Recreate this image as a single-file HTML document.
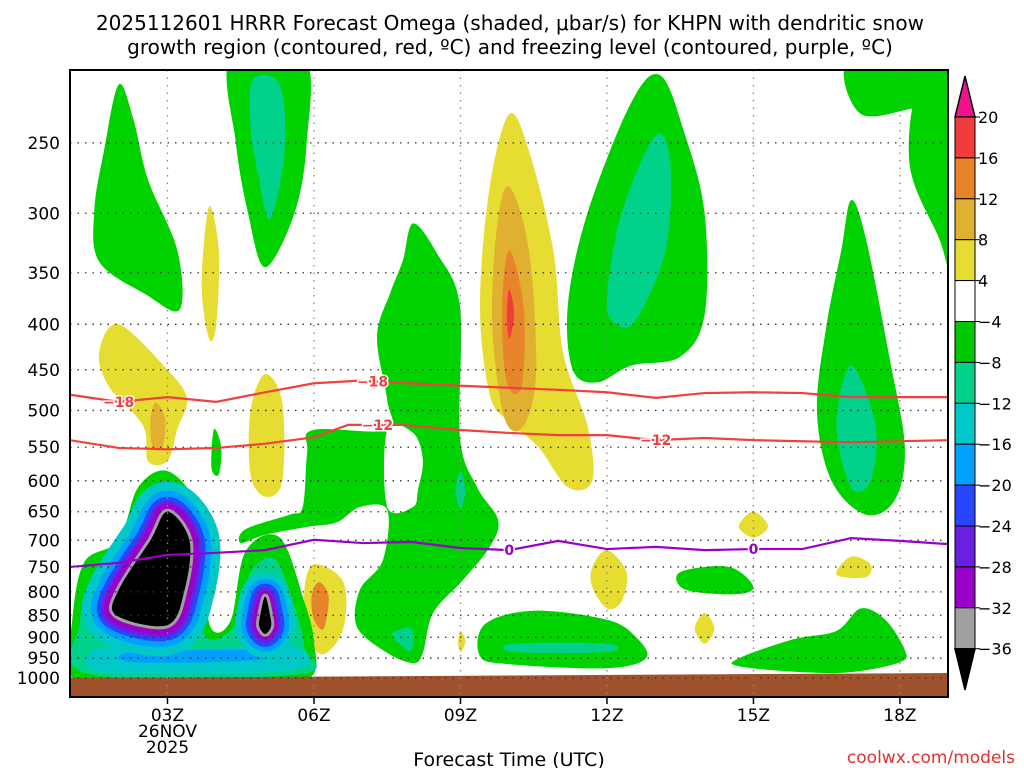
<!DOCTYPE html>
<html><head><meta charset="utf-8"><style>
html,body{margin:0;padding:0;background:#fff;width:1024px;height:768px;overflow:hidden}
svg{display:block}
text{font-family:"DejaVu Sans","Liberation Sans",sans-serif}
</style></head><body>
<svg id="chart" width="1024" height="768" viewBox="0 0 1024 768" xmlns="http://www.w3.org/2000/svg">
<text x="510" y="30" text-anchor="middle" font-size="20">2025112601 HRRR Forecast Omega (shaded, μbar/s) for KHPN with dendritic snow</text>
<text x="510" y="54" text-anchor="middle" font-size="20">growth region (contoured, red, ºC) and freezing level (contoured, purple, ºC)</text>
<defs><clipPath id="plotclip"><rect x="70" y="70" width="878" height="627"/></clipPath></defs>
<g id="fills" clip-path="url(#plotclip)"></g>
<g id="grid"></g>
<g id="lines" clip-path="url(#plotclip)"></g>
<g id="axes"></g>
<g id="cbar"></g>
<text x="509" y="766" text-anchor="middle" font-size="19">Forecast Time (UTC)</text>
<text x="1015" y="763" text-anchor="end" font-size="17" fill="#e03030">coolwx.com/models</text>
</svg>
<script>
// ---- data ----
const pTicks=[250,300,350,400,450,500,550,600,650,700,750,800,850,900,950,1000];
const hourTicks=[3,6,9,12,15,18];
const hourLabels=["03Z","06Z","09Z","12Z","15Z","18Z"];
const m18Hours=[1,2,3,4,5,6,6.9,9,11,12,13,14,15,16,17,19];
const m18Press=[480,489,483,489,477,466,463,469,474,477,484,478,477,478,483,483];
const m12Hours=[1,2,3,4,5,6,6.7,7.8,9,10,11,12,13,14,15,17,19];
const m12Press=[540,551,553,551,545,536,519,519,526,530,533,533,540,537,540,543,540];
const frzHours=[1,2,3,4,5,6,7,8,9,10,11,12,13,14,15,16,17,18,19];
const frzPress=[750,742,727,723,718,699,705,703,714,718,701,716,712,718,716,716,696,701,707];
const cbLevels=[20,16,12,8,4,-4,-8,-12,-16,-20,-24,-28,-32,-36];
const cbColors=["#f03c3c","#e8842a","#e0b030","#e6dc32","#ffffff","#00c800","#00d28c","#00c8c8","#00a0ff","#2846ff","#6a20e0","#9a00c8","#a0a0a0"];
const C={g:"#00d200",t:"#00d28c",c:"#00c8c8",lb:"#00a0ff",b:"#2846ff",i:"#6a20e0",p:"#9a00c8",gr:"#a0a0a0",k:"#000",y:"#e6dc32",go:"#e0b030",o:"#e8842a",r:"#f03c3c",w:"#fff"};
// shaded regions: [color, [[hour,pressure],...]]
const blobs=[
["g",[[2.0,215],[2.3,235],[2.6,275],[3.2,330],[3.25,385],[2.55,370],[1.6,340],[1.5,298],[1.7,255]]],
["g",[[4.3,200],[5.8,200],[5.85,250],[5.6,300],[5.0,345],[4.65,300],[4.4,250]]],
["t",[[4.75,212],[5.3,215],[5.4,255],[5.1,305],[4.85,270],[4.7,240]]],
["y",[[3.85,295],[4.05,330],[4.0,400],[3.85,415],[3.7,360]]],
["y",[[1.6,430],[2.0,400],[3.0,450],[3.4,485],[3.2,525],[3.0,570],[2.6,570],[2.5,520],[1.8,470]]],
["go",[[2.75,490],[2.95,510],[2.9,550],[2.7,550],[2.65,515]]],
["y",[[5.0,455],[5.35,490],[5.35,600],[5.0,625],[4.7,590],[4.7,500]]],
["g",[[3.95,525],[4.1,550],[4.05,590],[3.9,580]]],
["g",[[8.03,308],[8.52,333],[8.99,382],[8.99,536],[9.34,610],[9.77,664],[9.6,712],[9.05,776],[8.44,845],[8.23,937],[8.03,962],[7.5,937],[6.88,876],[6.94,796],[7.41,737],[7.5,647],[6.94,642],[6.47,668],[5.86,676],[5.0,690],[4.5,705],[4.6,680],[5.5,655],[5.77,642],[5.86,558],[5.98,526],[7.5,526],[7.5,487],[7.29,413],[7.56,369],[7.82,339]]],
["w",[[7.5,526],[8.03,530],[8.23,568],[8.13,614],[8.03,642],[7.5,642]]],
["t",[[9.0,585],[9.1,615],[9.0,645],[8.9,615]]],
["t",[[7.6,890],[8.0,880],[8.0,930],[7.8,920]]],
["g",[[9.5,870],[10.5,840],[12.0,860],[12.6,900],[12.8,950],[12.0,975],[10.0,965],[9.4,945]]],
["t",[[10.1,915],[12.0,915],[12.0,935],[10.1,935]]],
["y",[[10.0,232],[10.4,255],[10.9,330],[11.1,430],[11.6,520],[11.7,600],[11.2,610],[10.6,550],[10.0,515],[9.6,480],[9.4,380],[9.6,280]]],
["go",[[10.0,280],[10.4,330],[10.55,450],[10.3,520],[9.9,510],[9.65,400],[9.75,310]]],
["o",[[10.0,330],[10.3,385],[10.25,470],[9.95,465],[9.85,385]]],
["r",[[10.0,365],[10.1,390],[10.0,415],[9.95,390]]],
["g",[[11.3,450],[11.2,380],[11.6,300],[12.5,225],[13.1,210],[13.6,245],[14.0,300],[14.0,390],[13.5,435],[12.5,445],[11.8,465]]],
["t",[[12.0,375],[12.3,300],[13.0,245],[13.3,265],[13.2,330],[12.6,395],[12.2,400]]],
["g",[[17.0,200],[19.2,200],[19.2,236],[18.5,228],[17.2,232]]],
["g",[[18.2,265],[18.4,215],[19.2,210],[19.2,360],[18.8,320]]],
["g",[[17.0,290],[17.3,320],[17.8,440],[18.1,550],[17.9,630],[17.3,655],[16.6,600],[16.3,500],[16.5,400],[16.8,330]]],
["t",[[17.0,445],[17.5,520],[17.4,600],[17.0,610],[16.7,520]]],
["g",[[14.7,950],[15.8,905],[16.7,885],[17.2,835],[17.7,860],[18.1,930],[18.0,960],[17.0,985],[16.0,985],[14.7,970]]],
["g",[[13.5,760],[14.5,750],[15.0,790],[14.6,805],[13.6,795]]],
["y",[[12.0,718],[12.4,760],[12.3,820],[12.0,835],[11.7,790],[11.7,750]]],
["y",[[14.0,845],[14.2,880],[14.0,915],[13.8,880]]],
["y",[[15.0,650],[15.3,675],[15.0,695],[14.7,675]]],
["y",[[17.0,730],[17.4,745],[17.3,770],[16.7,765]]],
["y",[[9.0,885],[9.1,910],[9.0,935],[8.95,910]]],
["y",[[6.0,745],[6.6,780],[6.6,880],[6.2,940],[5.9,900],[5.8,800]]],
["o",[[6.1,780],[6.3,810],[6.2,880],[6.0,860],[5.95,810]]],
["y",[[3.85,750],[4.0,790],[3.85,830],[3.75,790]]],
["g",[[1.05,860],[1.3,740],[2.0,700],[2.4,610],[3.0,585],[3.6,640],[3.7,760],[3.9,880],[4.3,860],[4.6,720],[5.3,695],[5.8,820],[6.0,910],[5.9,1000],[4.5,1010],[2.0,1010],[1.05,1000]]],
["t",[[1.2,870],[1.5,770],[2.1,715],[2.5,630],[3.0,610],[3.5,660],[3.55,780],[3.8,900],[4.4,870],[4.7,760],[5.2,735],[5.6,830],[5.8,920],[5.7,990],[1.4,990]]],
["c",[[1.6,925],[3.0,935],[4.3,925],[5.5,915],[5.6,978],[1.7,985]]],
["lb",[[2.3,935],[4.8,930],[4.8,955],[2.3,960]]]
];
const lowCores=[[[3.0,650],[2.65,700],[2.0,796],[1.95,850],[3.0,872],[3.35,796],[3.45,700]]];
const lowCore2=[[5.0,810],[5.1,850],[5.12,875],[5.0,892],[4.88,875],[4.9,850]];

// ---- axes ----
const X=h=>21+48.83*h;
const Y=p=>678-386*Math.log(1000/p);
const NS="http://www.w3.org/2000/svg";
function mk(tag,attrs,parent){const e=document.createElementNS(NS,tag);for(const k in attrs)e.setAttribute(k,attrs[k]);parent.appendChild(e);return e;}
function smooth(pts,closed){
  const P=pts.map(d=>[X(d[0]),Y(d[1])]);const n=P.length;let s="M"+P[0][0]+","+P[0][1];
  const lim=closed?n:n-1;
  for(let i=0;i<lim;i++){
    const p0=P[(i-1+n)%n],p1=P[i],p2=P[(i+1)%n],p3=P[(i+2)%n];
    s+="C"+(p1[0]+(p2[0]-p0[0])/6)+","+(p1[1]+(p2[1]-p0[1])/6)+" "+(p2[0]-(p3[0]-p1[0])/6)+","+(p2[1]-(p3[1]-p1[1])/6)+" "+p2[0]+","+p2[1];
  }
  return s+(closed?"Z":"");
}
const fills=document.getElementById('fills');
blobs.forEach((b,i)=>{
  const el=mk('path',{d:smooth(b[1],true),fill:C[b[0]]},fills);
  
  
});
// rings around low cores
const rings=[["c",30],["lb",21],["b",15],["i",11],["p",8],["gr",3]];
const rings2=[["c",24],["lb",18],["b",13],["i",9],["p",6],["gr",3]];
rings.forEach(r=>{
  lowCores.forEach(core=>{
    const el=mk('path',{d:smooth(core,true),fill:C[r[0]],stroke:C[r[0]],"stroke-width":r[1]*2,"stroke-linejoin":"round"},fills);
    
    
  });
});
rings2.forEach(r=>{
  const el2=mk('path',{d:smooth(lowCore2,true),fill:C[r[0]],stroke:C[r[0]],"stroke-width":r[1]*2,"stroke-linejoin":"round"},fills);
  
  
});
lowCores.forEach(core=>{
  const el=mk('path',{d:smooth(core,true),fill:"#000"},fills);
  
  
});
const k2=mk('path',{d:smooth(lowCore2,true),fill:"#000"},fills);


const gnd=mk('polygon',{points:"70,678 948,673 948,697 70,697",fill:"#a0522d"},fills);



// grid + ticks
const grid=document.getElementById('grid'),axes=document.getElementById('axes');
pTicks.forEach(p=>{
  const y=Y(p);
  const gl=mk('line',{x1:70,x2:948,y1:y,y2:y,stroke:"#333","stroke-width":1.3,"stroke-dasharray":"1.5 6"},grid);
  
  
  const t=mk('text',{x:60,y:y+6,"text-anchor":"end","font-size":17},axes);t.textContent=p;
  
  
});
hourTicks.forEach((h,i)=>{
  const x=X(h);
  const gl=mk('line',{x1:x,x2:x,y1:70,y2:697,stroke:"#888","stroke-width":1.3,"stroke-dasharray":"1.5 6"},grid);
  
  
  mk('line',{x1:x,x2:x,y1:697,y2:704,stroke:"#000","stroke-width":1.5},axes);
  const t=mk('text',{x:x,y:721,"text-anchor":"middle","font-size":17},axes);t.textContent=hourLabels[i];
  
  
});
[["26NOV",737],["2025",753]].forEach(d=>{const t=mk('text',{x:X(3),y:d[1],"text-anchor":"middle","font-size":17},axes);t.textContent=d[0];
  
  });
const frame=mk('rect',{x:70,y:70,width:878,height:627,fill:"none",stroke:"#000","stroke-width":2},axes);



// contour lines
const lines=document.getElementById('lines');
function contour(hs,ps,color,name,labels,txt){
  const pts=hs.map((h,i)=>X(h)+","+Y(ps[i])).join(" ");
  const el=mk('polyline',{points:pts,fill:"none",stroke:color,"stroke-width":2.2},lines);
  
  
  labels.forEach(h=>{
    let j=0;while(j<hs.length-2&&hs[j+1]<h)j++;
    const f=(h-hs[j])/(hs[j+1]-hs[j]);const p=ps[j]+f*(ps[j+1]-ps[j]);
    const t=mk('text',{x:X(h),y:Y(p)+5,"text-anchor":"middle","font-size":14,"font-weight":"bold",fill:color,stroke:"#fff","stroke-width":3,"paint-order":"stroke"},lines);
    t.textContent=txt;
    
    
  });
}
contour(m18Hours,m18Press,"#f04040","contour-minus18",[2,7.2],"−18");
contour(m12Hours,m12Press,"#f04040","contour-minus12",[7.3,13],"−12");
contour(frzHours,frzPress,"#9a00c8","freezing-level",[10,15],"0");

// colorbar
const cb=document.getElementById('cbar');
const cbTop=117,cbStep=40.9;
const tri=mk('polygon',{points:`955,${cbTop} 975,${cbTop} 965,76`,fill:"#f0148c",stroke:"#000","stroke-width":1.5},cb);


cbColors.forEach((c,i)=>{
  const r=mk('rect',{x:955,y:cbTop+i*cbStep,width:20,height:cbStep,fill:c,stroke:"#000","stroke-width":1},cb);
  
  
});
const yb=cbTop+cbColors.length*cbStep;
const tri2=mk('polygon',{points:`955,${yb} 975,${yb} 965,690`,fill:"#000",stroke:"#000","stroke-width":1.5},cb);


cbLevels.forEach((v,i)=>{
  const y=cbTop+i*cbStep;
  mk('line',{x1:975,x2:980,y1:y,y2:y,stroke:"#000"},cb);
  const t=mk('text',{x:978,y:y+6,"font-size":16},cb);t.textContent=v<0?"−"+(-v):v;
  
  
});
</script>
</body></html>
